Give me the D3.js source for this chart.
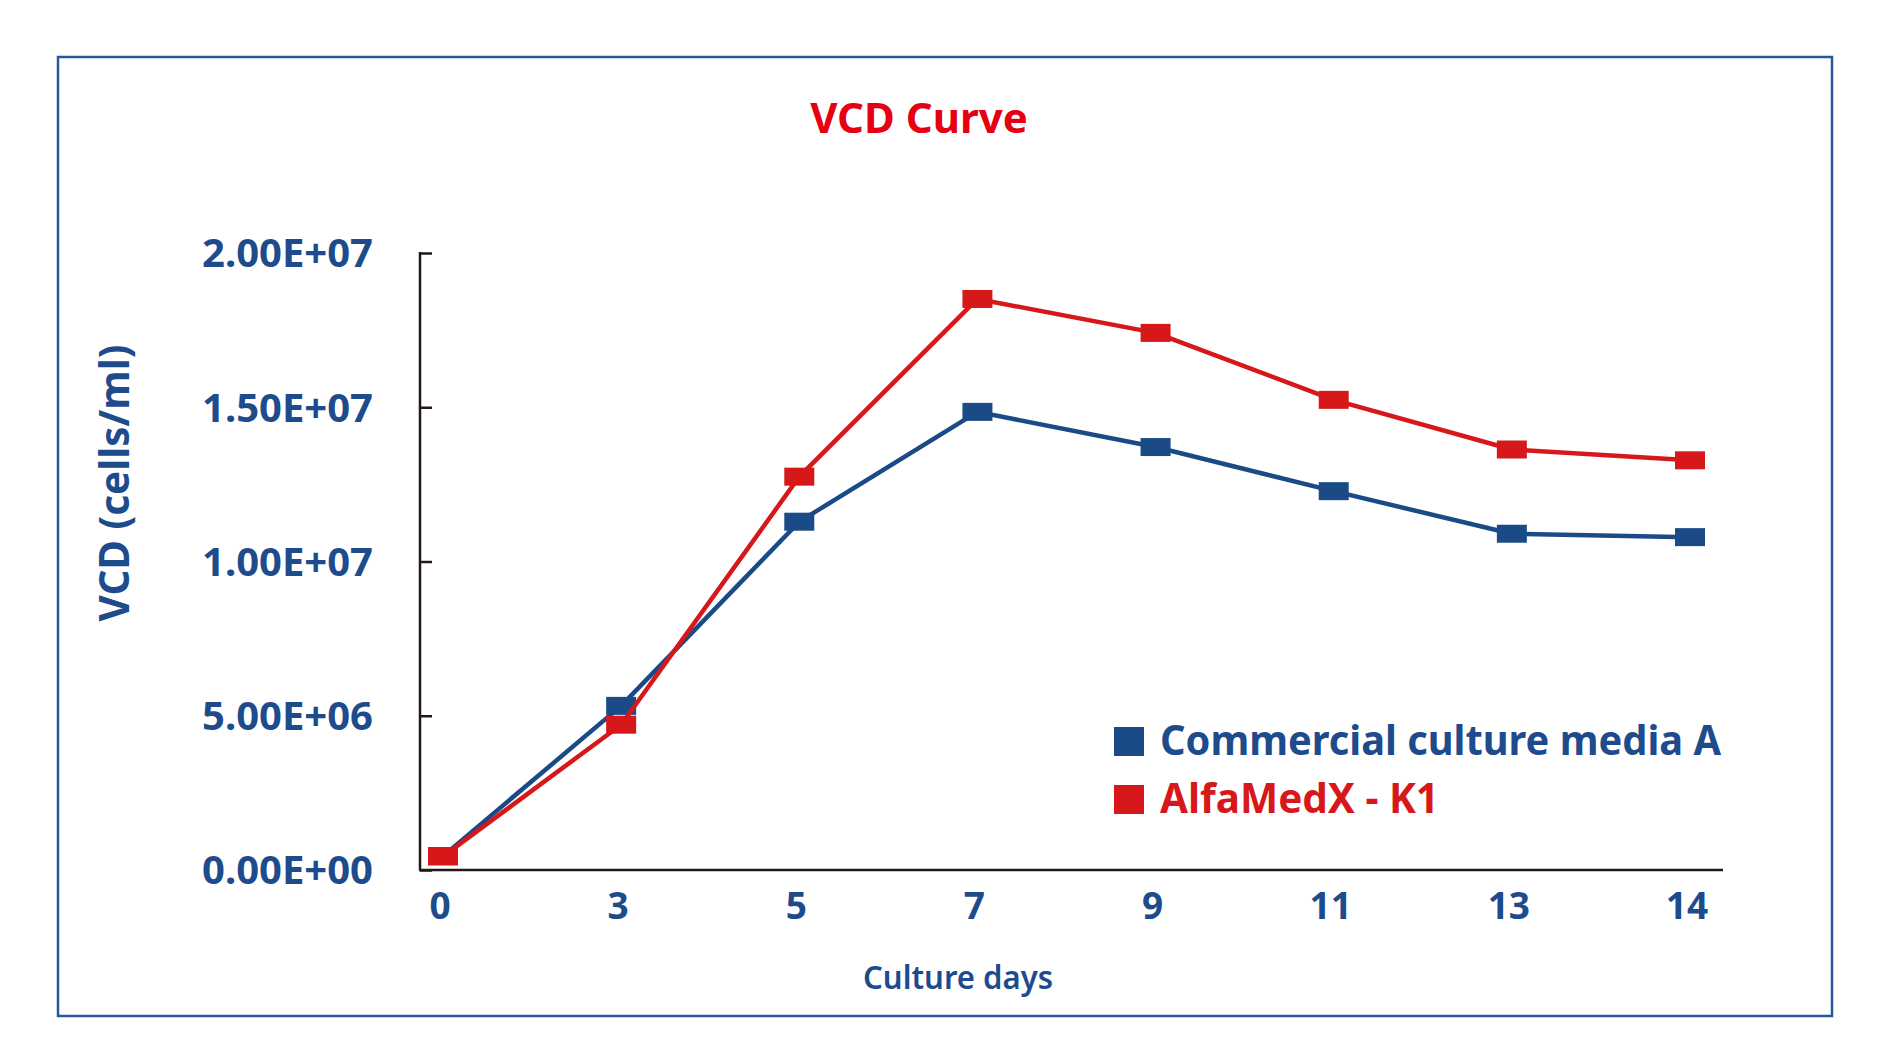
<!DOCTYPE html>
<html>
<head>
<meta charset="utf-8">
<script src="https://cdn.jsdelivr.net/npm/d3@7"></script>
<style>
  html, body { margin: 0; padding: 0; background: #ffffff; }
  svg { display: block; }
  text { font-family: "Noto Sans", "Open Sans", sans-serif; }
</style>
</head>
<body>
<div id="chart"></div>
<script>
//////////////////////
//  main constants  //
//////////////////////
const WIDTH = 1891;
const HEIGHT = 1064;

const days = ["0", "3", "5", "7", "9", "11", "13", "14"];
const commercialA = [0.45e6, 5.32e6, 11.29e6, 14.85e6, 13.71e6, 12.28e6, 10.90e6, 10.79e6];
const alfaMedX = [0.44e6, 4.71e6, 12.75e6, 18.51e6, 17.41e6, 15.24e6, 13.63e6, 13.28e6];
const yTicks = [0, 5e6, 1e7, 1.5e7, 2e7];
const seriesNames = ["Commercial culture media A", "AlfaMedX - K1"];

const BLUE = "#1a4b87";
const RED = "#d7181b";
const TEXT_BLUE = "#1d4b8c";
const AXIS = "#231815";

// plot area (pixels)
const PLOT = { LEFT: 420, RIGHT: 1723, TOP: 253, BOTTOM: 870 };

///////////////////////////
//  Build main svg node  //
///////////////////////////
const svg = d3.select("#chart").append("svg")
    .attr("width", WIDTH)
    .attr("height", HEIGHT);

// outer frame
svg.append("rect")
    .attr("x", 58).attr("y", 57)
    .attr("width", 1774).attr("height", 959)
    .attr("fill", "none")
    .attr("stroke", "#24599a")
    .attr("stroke-width", 2.5);

//////////////
//  scales  //
//////////////
const x = d3.scalePoint()
    .domain(days)
    .range([443, 1690]);

const y = d3.scaleLinear()
    .domain([0, 2e7])
    .range([PLOT.BOTTOM, PLOT.TOP]);

////////////
//  axes  //
////////////
const yAxis = svg.append("g")
    .attr("transform", `translate(${PLOT.LEFT},0)`)
    .call(d3.axisRight(y).tickValues(yTicks).tickSize(12).tickFormat(""));
yAxis.select(".domain").remove();
yAxis.selectAll(".tick line").attr("stroke", AXIS).attr("stroke-width", 2.5);

svg.append("line")
    .attr("x1", PLOT.LEFT).attr("x2", PLOT.LEFT)
    .attr("y1", y(2e7) - 1).attr("y2", PLOT.BOTTOM)
    .attr("stroke", AXIS).attr("stroke-width", 2.5);

svg.append("line")
    .attr("x1", PLOT.LEFT - 1).attr("x2", PLOT.RIGHT)
    .attr("y1", PLOT.BOTTOM).attr("y2", PLOT.BOTTOM)
    .attr("stroke", AXIS).attr("stroke-width", 2.5);

// y tick labels
svg.append("g").selectAll("text")
    .data(yTicks)
    .join("text")
    .attr("x", 373)
    .attr("y", d => y(d))
    .attr("dy", "0.36em")
    .attr("text-anchor", "end")
    .attr("font-size", 40)
    .attr("font-weight", 700)
    .attr("fill", TEXT_BLUE)
    .text(d => d.toExponential(2).toUpperCase().replace(/E([+-])(\d)$/, "E$10$2"));

// x tick labels
svg.append("g").selectAll("text")
    .data(days)
    .join("text")
    .attr("x", d => x(d) - 3)
    .attr("y", 919)
    .attr("text-anchor", "middle")
    .attr("font-size", 37)
    .attr("font-weight", 700)
    .attr("fill", TEXT_BLUE)
    .text(d => d);

//////////////
//  titles  //
//////////////
svg.append("text")
    .attr("x", 919).attr("y", 133)
    .attr("text-anchor", "middle")
    .attr("font-size", 42)
    .attr("font-weight", 700)
    .attr("fill", "#e60012")
    .text("VCD Curve");

svg.append("text")
    .attr("transform", "translate(129,483) rotate(-90)")
    .attr("text-anchor", "middle")
    .attr("font-size", 41)
    .attr("font-weight", 700)
    .attr("fill", TEXT_BLUE)
    .attr("textLength", 277)
    .attr("lengthAdjust", "spacingAndGlyphs")
    .text("VCD (cells/ml)");

svg.append("text")
    .attr("x", 958).attr("y", 989)
    .attr("text-anchor", "middle")
    .attr("font-size", 33)
    .attr("font-weight", 600)
    .attr("fill", TEXT_BLUE)
    .attr("textLength", 190)
    .attr("lengthAdjust", "spacingAndGlyphs")
    .text("Culture days");

//////////////
//  series  //
//////////////
const series = [
    { name: seriesNames[0], values: commercialA, color: BLUE },
    { name: seriesNames[1], values: alfaMedX, color: RED }
];

const line = d3.line()
    .x((d, i) => x(days[i]))
    .y(d => y(d));

const MW = 30, MH = 18;

series.forEach(s => {
    const g = svg.append("g");
    g.append("path")
        .datum(s.values)
        .attr("d", line)
        .attr("fill", "none")
        .attr("stroke", s.color)
        .attr("stroke-width", 4.5)
        .attr("stroke-linejoin", "round");
    g.selectAll("rect")
        .data(s.values)
        .join("rect")
        .attr("x", (d, i) => x(days[i]) - MW / 2)
        .attr("y", d => y(d) - MH / 2)
        .attr("width", MW)
        .attr("height", MH)
        .attr("fill", s.color);
});

//////////////
//  legend  //
//////////////
const legendLengths = [561, 279];
const legend = svg.append("g").selectAll("g")
    .data(series)
    .join("g")
    .attr("transform", (d, i) => `translate(1114,${727 + i * 58})`);

legend.append("rect")
    .attr("width", 30).attr("height", 29)
    .attr("fill", d => d.color);

legend.append("text")
    .attr("x", 46).attr("y", 28)
    .attr("font-size", 41)
    .attr("font-weight", 700)
    .attr("fill", d => d.color === BLUE ? TEXT_BLUE : RED)
    .attr("textLength", (d, i) => legendLengths[i])
    .attr("lengthAdjust", "spacingAndGlyphs")
    .text(d => d.name);
</script>
</body>
</html>
